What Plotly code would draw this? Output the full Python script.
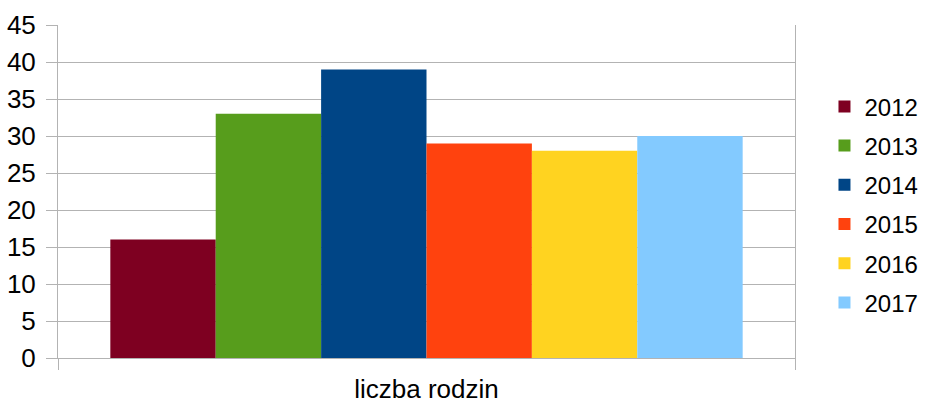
import plotly.graph_objects as go

categories = ["liczba rodzin"]
years = ["2012", "2013", "2014", "2015", "2016", "2017"]
values = [16, 33, 39, 29, 28, 30]
colors = ["#7E0021", "#579D1C", "#004586", "#FF420E", "#FFD320", "#83CAFF"]

fig = go.Figure()
for y, v, c in zip(years, values, colors):
    fig.add_trace(go.Bar(x=categories, y=[v], name=y, marker=dict(color=c, line=dict(width=0)),
                         legendgroup=y))

grid = "#b3b3b3"
fig.update_layout(
    width=936, height=403,
    margin=dict(l=58, r=130, t=25, b=45),
    paper_bgcolor="white", plot_bgcolor="white",
    barmode="group", bargap=0.142, bargroupgap=0,
    font=dict(family="Liberation Sans", size=24, color="black"),
    legend=dict(x=1.04, y=0.46, xanchor="left", yanchor="middle",
                tracegroupgap=5, font=dict(size=24), itemclick=False),
    showlegend=True,
)
fig.update_yaxes(range=[0, 45], dtick=5, showgrid=True, gridcolor=grid, gridwidth=1,
                 showline=True, linecolor=grid, linewidth=1, mirror=True,
                 ticks="outside", ticklen=11, tickcolor=grid, zeroline=False,
                 tickfont=dict(size=26), automargin=False, ticklabelstandoff=5)
fig.update_xaxes(showline=True, linecolor=grid, linewidth=1, ticks="outside",
                 tickson="boundaries", ticklen=11, tickcolor=grid, showgrid=False,
                 tickfont=dict(size=26), automargin=False, ticklabelstandoff=8)

fig.write_html("out.html", config={"displayModeBar": False},
               post_script="document.body.style.margin='0';document.body.style.overflow='hidden';")
